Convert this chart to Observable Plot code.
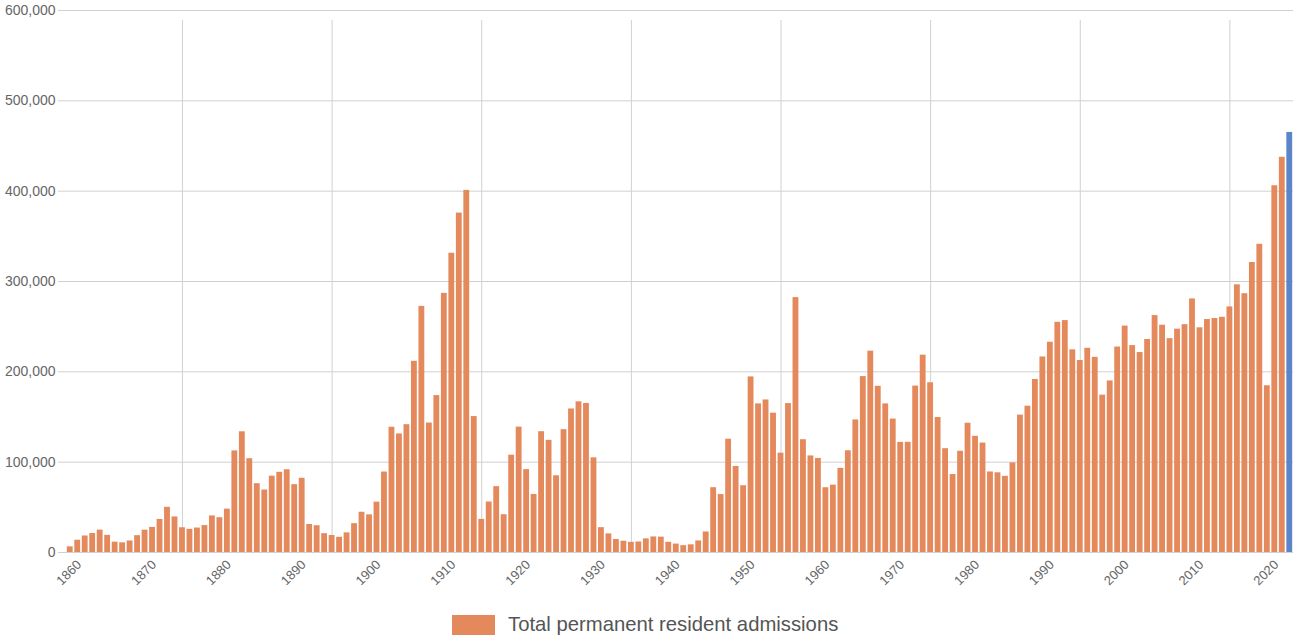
<!DOCTYPE html>
<html>
<head>
<meta charset="utf-8">
<script src="https://cdn.jsdelivr.net/npm/d3@7"></script>
<script src="https://cdn.jsdelivr.net/npm/@observablehq/plot@0.6"></script>
<style>
  body { margin: 0; background: #fff; font-family: "Liberation Sans", Arial, sans-serif; }
  #chart svg { display: block; }
  .legend { display: flex; align-items: center; padding-left: 452px; margin-top: 10px; }
  .legend .sw { width: 43px; height: 20px; background: #e4895b; margin-right: 13px; }
  .legend span { font-size: 20.3px; color: #555; }
</style>
</head>
<body>
<div id="chart"></div>
<div class="legend"><div class="sw"></div><span>Total permanent resident admissions</span></div>
<script>
const firstYear = 1860;
const admissions = [
  6276, 13589, 18294, 21000, 24779, 18958, 11427, 10666, 12765, 18630,
  24706, 27773, 36578, 50050, 39373, 27382, 25633, 27082, 29807, 40492,
  38505, 47991, 112458, 133624, 103824, 76169, 69152, 84526, 88766, 91600,
  75067, 82165, 30996, 29633, 20829, 18790, 16835, 21716, 31900, 44543,
  41681, 55747, 89102, 138660, 131252, 141465, 211653, 272409, 143326, 173694,
  286839, 331288, 375756, 400870, 150484, 36665, 55914, 72910, 41845, 107698,
  138824, 91728, 64224, 133729, 124164, 84907, 135982, 158886, 166783, 164993,
  104806, 27530, 20591, 14382, 12476, 11277, 11643, 15101, 17244, 16994,
  11324, 9329, 7576, 8504, 12801, 22722, 71719, 64127, 125414, 95217,
  73912, 194391, 164498, 168868, 154227, 109946, 164857, 282164, 124851, 106928,
  104111, 71698, 74586, 93151, 112606, 146758, 194743, 222876, 183974, 164531,
  147713, 121900, 122006, 184200, 218465, 187881, 149429, 114914, 86313, 112096,
  143117, 128618, 121147, 89157, 88239, 84302, 99219, 152098, 161929, 191556,
  216452, 232744, 254817, 256741, 224364, 212504, 226073, 216038, 174195, 189954,
  227458, 250638, 229048, 221349, 235823, 262242, 251640, 236753, 247246, 252174,
  280691, 248748, 257903, 259023, 260404, 271845, 296346, 286479, 321035, 341180,
  184595, 405999, 437539, 465000
];
const years = admissions.map((_, i) => firstYear + i);
const highlightYears = [2023];
const xTickLabels = [1860, 1870, 1880, 1890, 1900, 1910, 1920, 1930, 1940, 1950, 1960, 1970, 1980, 1990, 2000, 2010, 2020];
const xGridYears = [1875, 1895, 1915, 1935, 1955, 1975, 1995, 2015];
const yTicks = [0, 100000, 200000, 300000, 400000, 500000, 600000];

const data = years.map((year, i) => ({ year, value: admissions[i] }));
const orange = "#e4895b", blue = "#5b85c8";

const chart = Plot.plot({
  width: 1293,
  height: 603,
  marginLeft: 66,
  marginRight: 0,
  marginTop: 10,
  marginBottom: 51,
  style: { fontFamily: "'Liberation Sans', Arial, sans-serif", background: "#fff" },
  x: { type: "band", domain: years, paddingInner: 0.22, paddingOuter: 0.11 },
  y: { domain: [0, 600000] },
  marks: [
    Plot.ruleY(yTicks, { y: d => d, stroke: "#d0d0d0", strokeOpacity: 1, insetLeft: -8 }),
    Plot.ruleX(xGridYears, { x: d => d, y1: 0, y2: 600000, stroke: "#d0d0d0", insetBottom: -10 }),
    Plot.barY(data, { x: "year", y: "value", fill: d => highlightYears.includes(d.year) ? blue : orange }),
    Plot.axisY({ ticks: yTicks, tickSize: 0, tickPadding: 11, tickFormat: d3.format(","), fontSize: 14, fill: "#666", label: null }),
    Plot.axisX({ ticks: xTickLabels, tickSize: 0, tickRotate: -45, tickPadding: 6, dx: 9, dy: 4, tickFormat: d => String(d), fontSize: 13, fill: "#666", label: null })
  ]
});
document.getElementById("chart").appendChild(chart);
</script>
</body>
</html>
